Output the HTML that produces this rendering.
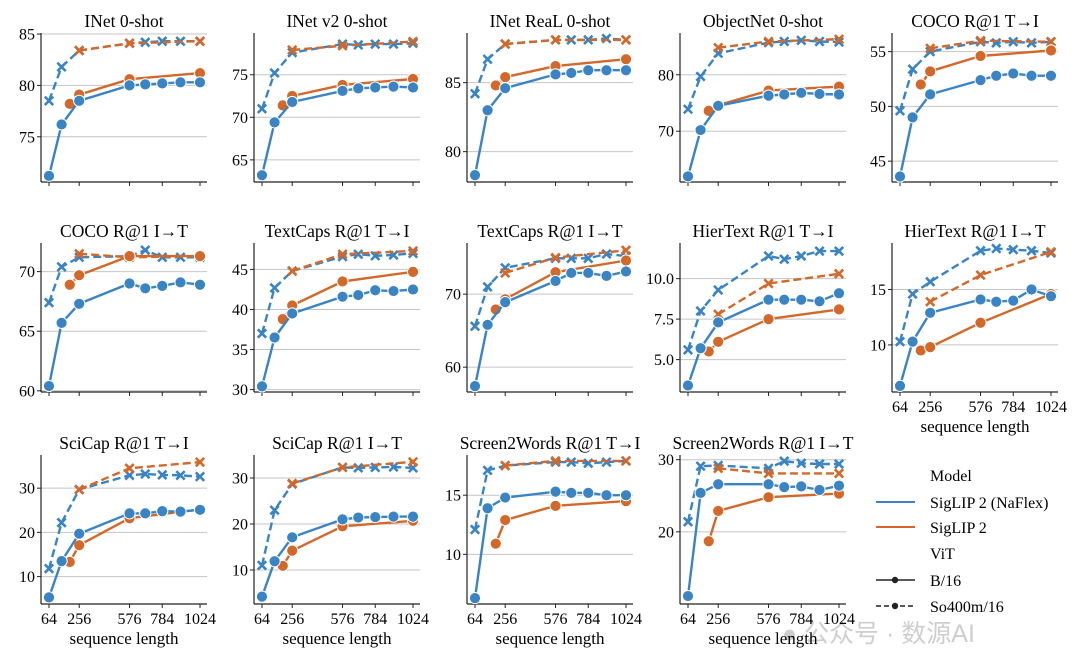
<!DOCTYPE html>
<html><head><meta charset="utf-8">
<style>
html,body{margin:0;padding:0;background:#fff;}
svg{display:block;font-family:"Liberation Serif",serif;}
</style></head>
<body>
<svg id="chart" width="1080" height="657" viewBox="0 0 1080 657" xmlns="http://www.w3.org/2000/svg">
<g id="legend" font-size="16">
  <text x="930" y="481">Model</text>
  <line x1="876" y1="502" x2="915" y2="502" stroke="#3a84c4" stroke-width="2"/>
  <text x="930" y="508">SigLIP 2 (NaFlex)</text>
  <line x1="876" y1="527" x2="915" y2="527" stroke="#d2692a" stroke-width="2"/>
  <text x="930" y="533">SigLIP 2</text>
  <text x="930" y="559">ViT</text>
  <line x1="876" y1="580" x2="915" y2="580" stroke="#222" stroke-width="1.6"/>
  <circle cx="895" cy="580" r="3.2" fill="#222"/>
  <text x="930" y="586">B/16</text>
  <line x1="876" y1="606" x2="915" y2="606" stroke="#222" stroke-width="1.6" stroke-dasharray="5,3"/>
  <circle cx="895" cy="606" r="3.2" fill="#222"/>
  <text x="930" y="612">So400m/16</text>
</g>
<text x="782" y="642" font-family="Liberation Sans, Noto Sans CJK SC, sans-serif" font-size="25" fill="#bdbdbd" fill-opacity="0.75">● 公众号 · 数源AI</text>
</svg>
<script>
const titles = ["INet 0-shot","INet v2 0-shot","INet ReaL 0-shot","ObjectNet 0-shot","COCO R@1 T→I",
"COCO R@1 I→T","TextCaps R@1 T→I","TextCaps R@1 I→T","HierText R@1 T→I","HierText R@1 I→T",
"SciCap R@1 T→I","SciCap R@1 I→T","Screen2Words R@1 T→I","Screen2Words R@1 I→T"];
const seqBlue = [64,144,256,576,676,784,900,1024];
const seqOrange = [196,256,576,1024];
const seqOrangeSo = [256,576,1024];
const xTicks = [64,256,576,784,1024];
const yDomains = [[70.6,85.1],[62.4,79.9],[77.8,88.6],[61.0,87.4],[43.1,56.7],
[59.9,72.4],[29.7,48.3],[56.6,77.0],[3.0,12.2],[5.75,19.2],
[3.8,37.5],[2.6,35.0],[5.8,18.4],[10.0,30.65]];
const yTicks = [[75,80,85],[65,70,75],[80,85],[70,80],[45,50,55],
[60,65,70],[30,35,40,45],[60,70],[5.0,7.5,10.0],[10,15],
[10,20,30],[10,20,30],[10,15],[20,30]];
const naflexB16 = [
[71.2,76.2,78.5,80.0,80.1,80.2,80.3,80.3],
[63.2,69.4,71.8,73.1,73.4,73.5,73.6,73.5],
[78.3,83.0,84.6,85.6,85.7,85.9,85.9,85.9],
[62.0,70.2,74.5,76.3,76.5,76.8,76.6,76.5],
[43.6,49.0,51.1,52.4,52.8,53.0,52.8,52.8],
[60.4,65.7,67.3,69.0,68.6,68.8,69.1,68.9],
[30.4,36.5,39.5,41.6,41.8,42.4,42.3,42.5],
[57.4,65.8,68.9,71.8,72.9,72.9,72.5,73.1],
[3.4,5.7,7.3,8.7,8.7,8.7,8.6,9.1],
[6.3,10.3,12.9,14.1,13.9,14.0,15.0,14.4],
[5.3,13.5,19.7,24.3,24.3,24.8,24.7,25.1],
[4.2,11.9,17.1,21.0,21.4,21.5,21.6,21.6],
[6.3,13.9,14.8,15.3,15.2,15.2,15.0,15.0],
[11.1,25.4,26.6,26.6,26.2,26.3,25.8,26.4]];
const naflexSo = [
[78.5,81.8,83.4,84.1,84.2,84.3,84.3,84.3],
[71.0,75.2,77.6,78.6,78.5,78.6,78.6,78.7],
[84.2,86.7,87.8,88.1,88.1,88.1,88.2,88.1],
[73.9,79.7,83.8,85.7,85.9,86.1,85.9,85.8],
[49.6,53.4,55.0,55.9,55.8,55.9,55.8,55.9],
[67.4,70.4,71.2,71.3,71.8,71.2,71.2,71.2],
[37.0,42.7,44.8,46.6,46.9,46.7,46.8,47.0],
[65.6,71.0,73.6,74.9,74.9,74.9,75.5,75.2],
[5.6,8.0,9.3,11.4,11.2,11.4,11.7,11.7],
[10.3,14.6,15.7,18.5,18.7,18.6,18.5,18.3],
[11.8,22.2,29.7,32.9,33.2,33.0,32.9,32.6],
[11.0,23.0,28.7,32.3,32.2,32.3,32.4,32.2],
[12.1,17.1,17.5,17.8,17.8,17.7,17.8,17.9],
[21.4,29.1,29.2,28.8,29.8,29.5,29.4,29.4]];
const siglipB16 = [
[78.2,79.1,80.6,81.2],[71.4,72.5,73.8,74.5],[84.8,85.4,86.2,86.7],[73.6,74.6,77.2,77.9],[52.0,53.2,54.6,55.1],
[68.9,69.7,71.3,71.3],[38.8,40.5,43.5,44.7],[67.9,69.3,73.0,74.6],[5.5,6.1,7.5,8.1],[9.5,9.8,12.0,14.6],
[13.3,17.1,23.2,25.2],[10.9,14.2,19.5,20.7],[10.9,12.9,14.1,14.5],[18.7,22.9,24.8,25.3]];
const siglipSo = [
[83.4,84.1,84.3],[77.9,78.4,78.9],[87.8,88.1,88.1],[84.8,85.9,86.3],[55.3,56.0,55.9],
[71.5,71.2,71.3],[44.8,46.9,47.3],[72.9,75.0,76.0],[7.8,9.7,10.3],[13.9,16.3,18.4],
[29.7,34.5,35.9],[28.8,32.3,33.5],[17.5,17.9,17.9],[28.8,28.1,28.1]];

const NS="http://www.w3.org/2000/svg";
const svg=document.getElementById('chart');
const BLUE="#3a84c4", ORANGE="#d2692a";
const colLeft=[41,254,467,680,892], rowTop=[33,243,455], rowBot=[182,392,604], PW=166;
function mk(tag,attrs,parent){const e=document.createElementNS(NS,tag);for(const k in attrs)e.setAttribute(k,attrs[k]);(parent||svg).appendChild(e);return e;}
function slug(s){return s.toLowerCase().replace(/@/g,'at').replace(/→/g,'to').replace(/[^a-z0-9]+/g,'-').replace(/^-|-$/g,'');}

titles.forEach((t,i)=>{
  const r=Math.floor(i/5), c=i%5;
  const L=colLeft[c], T=rowTop[r], B=rowBot[r];
  const [y0,y1]=yDomains[i];
  const xs=v=>L+8+(v-64)*151/960;
  const ys=v=>B-(v-y0)/(y1-y0)*(B-T);
  const g=mk('g',{});
  
  
  const tt=mk('text',{x:L+PW/2,y:T-6,'text-anchor':'middle','font-size':17.5},g);
  tt.textContent=t;
  
  
  yTicks[i].forEach(v=>{
    const y=ys(v);
    const gl=mk('line',{x1:L,x2:L+PW,y1:y,y2:y,stroke:'#c4c4c4','stroke-width':1},g);
    
    
    mk('line',{x1:L-4,x2:L,y1:y,y2:y,stroke:'#222','stroke-width':1},g);
    const lb=mk('text',{x:L-6,y:y+5.5,'text-anchor':'end','font-size':16},g);
    lb.textContent=(i===8)?v.toFixed(1):String(v);
    
    
  });
  const showX = r===2 || i===9;
  xTicks.forEach(v=>{
    const x=xs(v);
    mk('line',{x1:x,x2:x,y1:B,y2:B+4,stroke:'#222','stroke-width':1},g);
    if(showX){
      const lb=mk('text',{x:x,y:B+20,'text-anchor':'middle','font-size':16},g);
      lb.textContent=String(v);
      
      
    }
  });
  if(showX){
    const xl=mk('text',{x:L+PW/2,y:B+40,'text-anchor':'middle','font-size':17},g);
    xl.textContent='sequence length';
    
    
  }
  mk('line',{x1:L,x2:L,y1:T,y2:B,stroke:'#222','stroke-width':1.2},g);
  mk('line',{x1:L,x2:L+PW,y1:B,y2:B,stroke:'#222','stroke-width':1.2},g);
  function series(xv,yv,color,dashed,marker,name){
    const sg=mk('g',{},g);
    
    
    const pts=xv.map((x,k)=>xs(x).toFixed(1)+','+ys(yv[k]).toFixed(1)).join(' ');
    const pl=mk('polyline',{points:pts,fill:'none',stroke:color,'stroke-width':2.4,'stroke-dasharray':dashed?'8,4':'none','stroke-linejoin':'round'},sg);
    
    
    xv.forEach((x,k)=>{
      const cx=xs(x), cy=ys(yv[k]);
      let m;
      if(marker==='o'){
        m=mk('circle',{cx:cx,cy:cy,r:5.6,fill:color,stroke:'#fff','stroke-width':1},sg);
      } else {
        const d=4.2;
        m=mk('path',{d:`M${cx-d},${cy-d}L${cx+d},${cy+d}M${cx-d},${cy+d}L${cx+d},${cy-d}`,stroke:color,'stroke-width':2.6,fill:'none'},sg);
      }
      
      
    });
  }
  series(seqBlue,naflexSo[i],BLUE,true,'x','naflex-so400m');
  series(seqOrangeSo,siglipSo[i],ORANGE,true,'x','siglip2-so400m');
  series(seqOrange,siglipB16[i],ORANGE,false,'o','siglip2-b16');
  series(seqBlue,naflexB16[i],BLUE,false,'o','naflex-b16');
});
</script>
</body></html>
